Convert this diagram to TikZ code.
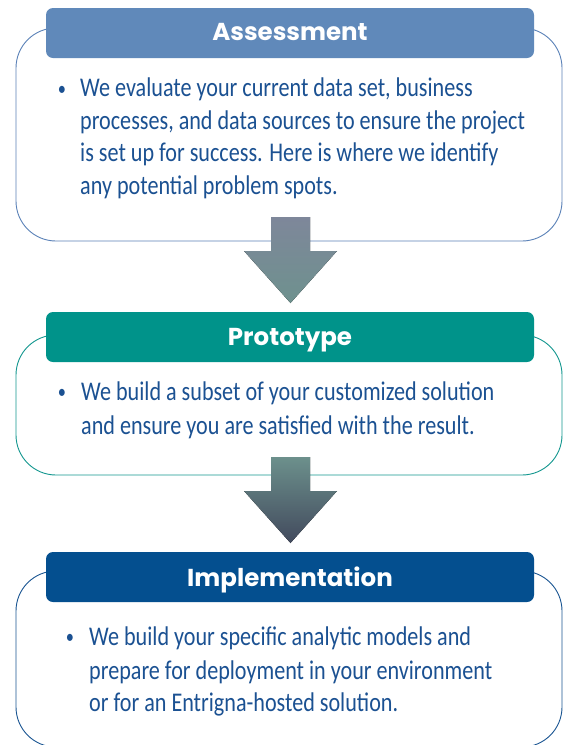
\documentclass[tikz,border=0pt]{standalone}
\usepackage{fontspec}
\newfontfamily\bodyfont[FakeStretch=0.82]{Carlito}
\newfontfamily\headfont{Poppins}
\definecolor{hdA}{HTML}{6089BA}
\definecolor{hdB}{HTML}{00938A}
\definecolor{hdC}{HTML}{044F8F}
\definecolor{olA}{HTML}{5B82B8}
\definecolor{olB}{HTML}{13978F}
\definecolor{olC}{HTML}{1A5592}
\definecolor{txt}{HTML}{1B5192}
\definecolor{arA1}{HTML}{7E879A}
\definecolor{arA2}{HTML}{6E918E}
\definecolor{arB1}{HTML}{6C908C}
\definecolor{arB2}{HTML}{424A5D}
\tikzset{
  outline/.style={draw, line width=0.9pt, rounded corners=40pt, minimum width=546pt, inner sep=0pt},
  header/.style={rounded corners=7pt, minimum width=488pt, minimum height=50pt, inner sep=0pt},
  headtext/.style={text=white, font=\headfont\bfseries\fontsize{24.5}{24.5}\selectfont, anchor=base, inner sep=0pt},
  bodyline/.style={anchor=base west, text=txt, font=\bodyfont\fontsize{27}{33}\selectfont, inner sep=0pt},
  bul/.style={anchor=base, text=txt, font=\bodyfont\fontsize{20}{20}\selectfont, inner sep=0pt},
}
\begin{document}
\begin{tikzpicture}[x=1pt,y=-1pt]
\useasboundingbox (0,0) rectangle (563,745);
\fill[white] (0,0) rectangle (563,745);
\clip (0,0) rectangle (563,745);
% outlines
\node[outline, draw=olA, minimum height=213pt] (box1) at (289,134.5) {};
\node[outline, draw=olB, minimum height=140pt] (box2) at (289,405) {};
\node[outline, draw=olC, minimum height=176pt] (box3) at (289,659) {};
% arrows
\fill[top color=arA1, bottom color=arA2] (271,217) -- (310,217) -- (310,251) -- (337,251) -- (290.5,303) -- (244,251) -- (271,251) -- cycle;
\fill[top color=arB1, bottom color=arB2] (271,457) -- (310,457) -- (310,491) -- (337,491) -- (290.5,543) -- (244,491) -- (271,491) -- cycle;
% headers
\node[header, fill=hdA] (h1) at (290,33) {};
\node[header, fill=hdB] (h2) at (290,337) {};
\node[header, fill=hdC] (h3) at (290,577) {};
\node[headtext] (t1) at (290,40) {Assessment};
\node[headtext] (t2) at (290,345) {Prototype};
\node[headtext] (t3) at (290,586) {Implementation};
% box 1 text
\node[bul] (b1) at (62,95) {•};
\node[bodyline] (l11) at (80,96.5) {We evaluate your current data set, business};
\node[bodyline] (l12) at (80,129) {processes, and data sources to ensure the project};
\node[bodyline] (l13) at (80,161.5) {is set up for success. Here is where we identify};
\node[bodyline] (l14) at (80,194) {any potential problem spots.};
% box 2 text
\node[bul] (b2) at (62,398.5) {•};
\node[bodyline] (l21) at (81,400) {We build a subset of your customized solution};
\node[bodyline] (l22) at (81,434) {and ensure you are satisfied with the result.};
% box 3 text
\node[bul] (b3) at (70,643.5) {•};
\node[bodyline] (l31) at (89,645) {We build your specific analytic models and};
\node[bodyline] (l32) at (89,679) {prepare for deployment in your environment};
\node[bodyline] (l33) at (89,711) {or for an Entrigna-hosted solution.};
\end{tikzpicture}
\end{document}
